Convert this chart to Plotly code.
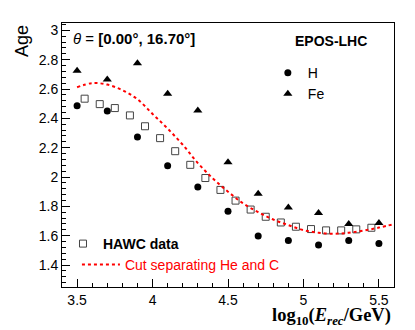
import plotly.graph_objects as go

# HAWC data (open squares)
hawc_x = [3.55, 3.65, 3.75, 3.85, 3.95, 4.05, 4.15, 4.25, 4.35, 4.45,
          4.55, 4.65, 4.75, 4.85, 4.95, 5.05, 5.15, 5.25, 5.35, 5.45]
hawc_age = [2.534, 2.497, 2.47, 2.42, 2.346, 2.265, 2.176, 2.083, 1.993, 1.912,
            1.839, 1.778, 1.729, 1.69, 1.661, 1.645, 1.636, 1.636, 1.643, 1.654]

# EPOS-LHC simulation
sim_x = [3.5, 3.7, 3.9, 4.1, 4.3, 4.5, 4.7, 4.9, 5.1, 5.3, 5.5]
h_age = [2.486, 2.45, 2.273, 2.077, 1.932, 1.767, 1.598, 1.567, 1.537, 1.567, 1.546]
fe_age = [2.725, 2.664, 2.775, 2.567, 2.454, 2.10, 1.885, 1.792, 1.754, 1.679, 1.686]

# cut separating He and C
cut_x = [3.5, 3.6, 3.7, 3.8, 3.9, 4.0, 4.1, 4.2, 4.3, 4.4, 4.5,
         4.6, 4.7, 4.8, 4.9, 5.0, 5.1, 5.2, 5.3, 5.4, 5.5, 5.6]
cut_age = [2.612, 2.640, 2.630, 2.592, 2.53, 2.43, 2.33, 2.22, 2.095, 1.99, 1.90,
           1.82, 1.76, 1.71, 1.672, 1.638, 1.62, 1.613, 1.62, 1.635, 1.655, 1.679]

fig = go.Figure()

fig.add_trace(go.Scatter(
    x=hawc_x, y=hawc_age, mode='markers', name='<b>HAWC data</b>',
    marker=dict(symbol='square-open', size=7, color='#444444', line=dict(width=1)),
    legend='legend2'
))
fig.add_trace(go.Scatter(
    x=sim_x, y=h_age, mode='markers', name='H',
    marker=dict(symbol='circle', size=7, color='black'),
    legend='legend'
))
fig.add_trace(go.Scatter(
    x=sim_x, y=fe_age, mode='markers', name='Fe',
    marker=dict(symbol='triangle-up', size=8, color='black'),
    legend='legend'
))
fig.add_trace(go.Scatter(
    x=cut_x, y=cut_age, mode='lines', line_shape='spline',
    name="<span style='color:#ff0000'>Cut separating He and C</span>",
    line=dict(color='#ff0000', width=2, dash='dot'),
    legend='legend3'
))

axis_common = dict(
    showgrid=False, zeroline=False,
    showline=True, linecolor='black', linewidth=1, mirror=True,
    ticks='inside', ticklen=8, tickcolor='black',
    tickfont=dict(family='Liberation Sans', size=14, color='black'),
)

fig.update_xaxes(range=[3.4, 5.6], dtick=0.5, tick0=3.5,
                 minor=dict(dtick=0.1, ticks='inside', ticklen=4, tickcolor='black'),
                 **axis_common)
fig.update_yaxes(range=[1.25, 3.05], dtick=0.2, tick0=1.4,
                 minor=dict(dtick=0.04, ticks='inside', ticklen=4, tickcolor='black'),
                 **axis_common)

legend_common = dict(xanchor='left', yanchor='top', bgcolor='rgba(0,0,0,0)',
                     font=dict(size=14), tracegroupgap=0)

# the page body adds an 8px margin, so the figure is 8px smaller each way
fig.update_layout(
    width=407, height=322,
    margin=dict(l=54, r=21, t=15, b=43),
    plot_bgcolor='white', paper_bgcolor='white',
    font=dict(family='Liberation Sans', color='black'),
    showlegend=True,
    legend=dict(x=0.62, y=0.871, **legend_common),
    legend2=dict(x=0.003, y=0.2235, **legend_common),
    legend3=dict(x=0.045, y=0.144, itemwidth=38, **legend_common),
    annotations=[
        dict(text='<i>θ</i> = <b>[0.00°, 16.70°]</b>', xref='paper', yref='paper',
             x=0.027, y=0.943, xanchor='left', yanchor='middle', showarrow=False,
             font=dict(family='Liberation Sans', size=15)),
        dict(text='<b>EPOS-LHC</b>', xref='paper', yref='paper',
             x=0.696, y=0.932, xanchor='left', yanchor='middle', showarrow=False,
             font=dict(family='Liberation Sans', size=14)),
        dict(text='Age', xref='paper', yref='paper', x=-0.084, y=1.0,
             xanchor='right', yanchor='top', textangle=-90, showarrow=False,
             font=dict(family='Liberation Sans', size=18)),
        dict(text='<b>log<sub>10</sub>(<i>E<sub>rec</sub></i>/GeV)</b>', xref='paper',
             yref='paper', x=0.997, y=-0.112, xanchor='right', yanchor='middle',
             showarrow=False, font=dict(family='Liberation Serif', size=18.5)),
    ],
)

fig.write_html("out.html")
